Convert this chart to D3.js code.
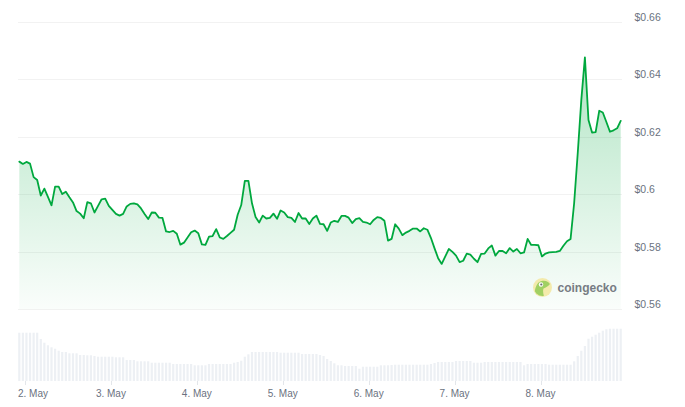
<!DOCTYPE html>
<html>
<head>
<meta charset="utf-8">
<script src="https://cdn.jsdelivr.net/npm/d3@7/dist/d3.min.js"></script>
<style>
  html, body { margin: 0; padding: 0; background: #ffffff; }
  svg { display: block; }
</style>
</head>
<body>
<svg id="chart" width="685" height="407"></svg>
<script>
// ---- Data ----
const startTime = Date.UTC(2024, 4, 1, 22, 24); // first hourly sample
const hourMs = 3600 * 1000;

const prices = [
  0.6114, 0.6106, 0.6113, 0.6107, 0.6060, 0.6050, 0.5996, 0.6020, 0.5991, 0.5962,
  0.6027, 0.6027, 0.6001, 0.6009, 0.5990, 0.5972, 0.5942, 0.5933, 0.5917, 0.5973,
  0.5969, 0.5937, 0.5960, 0.5983, 0.5985, 0.5960, 0.5946, 0.5932, 0.5926, 0.5932,
  0.5958, 0.5967, 0.5969, 0.5965, 0.5951, 0.5932, 0.5914, 0.5937, 0.5936, 0.5919,
  0.5918, 0.5871, 0.5869, 0.5873, 0.5863, 0.5825, 0.5832, 0.5850, 0.5868, 0.5874,
  0.5865, 0.5826, 0.5824, 0.5853, 0.5855, 0.5879, 0.5850, 0.5845, 0.5855, 0.5866,
  0.5877, 0.5929, 0.5963, 0.6047, 0.6047, 0.5969, 0.5921, 0.5902, 0.5926, 0.5916,
  0.5918, 0.5933, 0.5915, 0.5944, 0.5937, 0.5921, 0.5918, 0.5904, 0.5935, 0.5916,
  0.5916, 0.5897, 0.5916, 0.5926, 0.5897, 0.5896, 0.5873, 0.5902, 0.5908, 0.5904,
  0.5925, 0.5925, 0.5919, 0.5900, 0.5914, 0.5917, 0.5904, 0.5902, 0.5896, 0.5911,
  0.5921, 0.5918, 0.5908, 0.5839, 0.5845, 0.5896, 0.5881, 0.5858, 0.5867, 0.5873,
  0.5881, 0.5881, 0.5871, 0.5882, 0.5877, 0.5848, 0.5812, 0.5778, 0.5758, 0.5784,
  0.5810, 0.5800, 0.5787, 0.5764, 0.5769, 0.5794, 0.5790, 0.5776, 0.5764, 0.5793,
  0.5794, 0.5812, 0.5822, 0.5787, 0.5803, 0.5803, 0.5795, 0.5813, 0.5801, 0.5810,
  0.5795, 0.5798, 0.5845, 0.5824, 0.5824, 0.5823, 0.5784, 0.5794, 0.5798, 0.5799,
  0.5800, 0.5803, 0.5821, 0.5837, 0.5845, 0.5970, 0.6144, 0.6329, 0.6477, 0.6259,
  0.6215, 0.6217, 0.6291, 0.6285, 0.6252, 0.6218, 0.6223, 0.6230, 0.6256
];

// volumes in millions (relative bar heights)
const volumes = [
  48.3, 48.3, 48.3, 48.3, 48.3, 48.3, 42.0, 38.3, 35.7, 33.7,
  32.3, 30.3, 29.0, 29.0, 27.7, 27.7, 27.7, 26.0, 26.0, 25.7,
  25.7, 25.0, 24.3, 24.3, 24.3, 24.3, 24.3, 23.7, 23.7, 23.7,
  21.0, 21.0, 21.0, 19.7, 19.7, 19.7, 19.7, 18.3, 18.3, 18.3,
  18.3, 18.3, 18.3, 17.0, 17.0, 17.0, 17.0, 17.0, 17.0, 15.7,
  15.7, 15.7, 15.7, 17.0, 17.0, 17.0, 17.0, 17.0, 17.0, 17.0,
  18.3, 19.0, 20.3, 24.3, 26.7, 29.0, 29.0, 29.0, 29.0, 29.0,
  29.0, 29.0, 29.0, 28.3, 28.3, 28.3, 28.3, 28.3, 28.3, 27.0,
  27.0, 27.0, 27.0, 27.0, 26.0, 25.0, 22.0, 20.0, 17.7, 15.7,
  15.7, 15.0, 15.0, 15.0, 15.0, 12.3, 14.3, 14.3, 14.3, 14.3,
  14.3, 15.7, 15.7, 15.7, 16.0, 16.3, 16.3, 16.3, 16.3, 16.3,
  16.3, 16.3, 16.3, 16.3, 16.3, 17.0, 18.0, 19.0, 19.0, 19.0,
  19.0, 19.0, 20.0, 20.0, 20.0, 20.0, 20.0, 18.3, 18.3, 18.3,
  19.0, 19.0, 19.0, 19.0, 19.0, 19.0, 19.0, 19.0, 19.0, 19.0,
  19.0, 15.7, 17.0, 17.0, 17.0, 17.0, 17.0, 17.0, 16.3, 16.3,
  16.3, 16.3, 16.3, 16.3, 16.3, 19.7, 25.0, 30.3, 35.0, 42.3,
  44.3, 46.3, 48.3, 50.3, 51.7, 52.3, 52.3, 52.3, 52.3
];

const yTickValues = [0.56, 0.58, 0.60, 0.62, 0.64, 0.66];

// ---- Chart ----
const svg = d3.select("#chart");
const plot = { left: 19.3, right: 620.7, top: 22, priceBottom: 309.3, volTop: 328.7, volBottom: 381 };

const points = prices.map((p, i) => ({ t: new Date(startTime + i * hourMs), p, v: volumes[i] }));

const x = d3.scaleUtc()
  .domain([points[0].t, points[points.length - 1].t])
  .range([plot.left, plot.right]);

const y = d3.scaleLinear()
  .domain([0.56, 0.66])
  .range([plot.priceBottom, plot.top]);

const yVol = d3.scaleLinear()
  .domain([0, d3.max(volumes)])
  .range([plot.volBottom, plot.volTop]);

const font = "'Liberation Sans', Arial, Helvetica, sans-serif";
const labelColor = "#6b7280";

// gradient
const defs = svg.append("defs");
const grad = defs.append("linearGradient")
  .attr("id", "areaGrad")
  .attr("gradientUnits", "userSpaceOnUse")
  .attr("x1", 0).attr("x2", 0)
  .attr("y1", y(d3.max(prices))).attr("y2", plot.priceBottom);
grad.append("stop").attr("offset", "0%").attr("stop-color", "rgb(0,168,62)").attr("stop-opacity", 0.3);
grad.append("stop").attr("offset", "100%").attr("stop-color", "rgb(0,168,62)").attr("stop-opacity", 0.02);

// grid lines
svg.append("g").selectAll("line")
  .data(yTickValues)
  .join("line")
  .attr("x1", 18).attr("x2", 622)
  .attr("y1", d => Math.round(y(d)) + 0.5)
  .attr("y2", d => Math.round(y(d)) + 0.5)
  .attr("stroke", "#f2f2f2")
  .attr("stroke-width", 1);

// y labels
svg.append("g").selectAll("text")
  .data(yTickValues)
  .join("text")
  .attr("x", 634.5)
  .attr("y", d => y(d) - 1)
  .attr("font-family", font)
  .attr("font-size", 10.5)
  .attr("fill", labelColor)
  .text(d => "$" + (+d.toFixed(2)).toString());

// volume bars
svg.append("g").selectAll("rect")
  .data(points)
  .join("rect")
  .attr("x", d => x(d.t) - 1.1)
  .attr("width", 2.2)
  .attr("y", d => yVol(d.v))
  .attr("height", d => plot.volBottom - yVol(d.v))
  .attr("fill", "#edf0f4");

// area + line
const area = d3.area()
  .x(d => x(d.t))
  .y0(plot.priceBottom)
  .y1(d => y(d.p));
svg.append("path")
  .datum(points)
  .attr("d", area)
  .attr("fill", "url(#areaGrad)");

const line = d3.line()
  .x(d => x(d.t))
  .y(d => y(d.p));
svg.append("path")
  .datum(points)
  .attr("d", line)
  .attr("fill", "none")
  .attr("stroke", "#00a83e")
  .attr("stroke-width", 1.8)
  .attr("stroke-linejoin", "round")
  .attr("stroke-linecap", "round");

// x axis ticks + labels
const dayTicks = d3.utcDay.range(d3.utcDay.ceil(x.domain()[0]), x.domain()[1]);
const fmt = d3.utcFormat("%-d. %b");
const xg = svg.append("g");
xg.selectAll("line")
  .data(dayTicks)
  .join("line")
  .attr("x1", d => Math.round(x(d)) + 0.5)
  .attr("x2", d => Math.round(x(d)) + 0.5)
  .attr("y1", plot.volBottom)
  .attr("y2", plot.volBottom + 4)
  .attr("stroke", "#e3e6ea");
xg.selectAll("text")
  .data(dayTicks)
  .join("text")
  .attr("y", 397)
  .attr("font-family", font)
  .attr("font-size", 10)
  .attr("fill", labelColor)
  .text(d => fmt(d))
  .each(function(d) {
    const w = this.getComputedTextLength();
    let left = x(d) - w / 2;
    if (left < 18) left = 18;
    d3.select(this).attr("x", left);
  });

// coingecko watermark
const logo = svg.append("g").attr("transform", "translate(542.5,287.5)").attr("opacity", 0.8);
logo.append("circle").attr("r", 9.5).attr("fill", "#f4e79a");
defs.append("clipPath").attr("id", "logoClip").append("circle").attr("r", 8.6);
const gk = logo.append("g").attr("clip-path", "url(#logoClip)");
gk.append("path")
  .attr("d", "M-8,9 C-8,1 -6,-5 -1,-6.5 C3,-7.5 6,-6 7.5,-3.5 C6,-1 3,0 1,1 C0,4 1,7 2,10 Z")
  .attr("fill", "#8dc63f");
logo.append("circle").attr("cx", -1.5).attr("cy", -3).attr("r", 2.2).attr("fill", "#ffffff");
logo.append("circle").attr("cx", -1.2).attr("cy", -3).attr("r", 1.1).attr("fill", "#4a4a4a");

svg.append("text")
  .attr("x", 557.5)
  .attr("y", 291.5)
  .attr("font-family", font)
  .attr("font-size", 12)
  .attr("font-weight", "bold")
  .attr("fill", "#777c83")
  .text("coingecko");
</script>
</body>
</html>
